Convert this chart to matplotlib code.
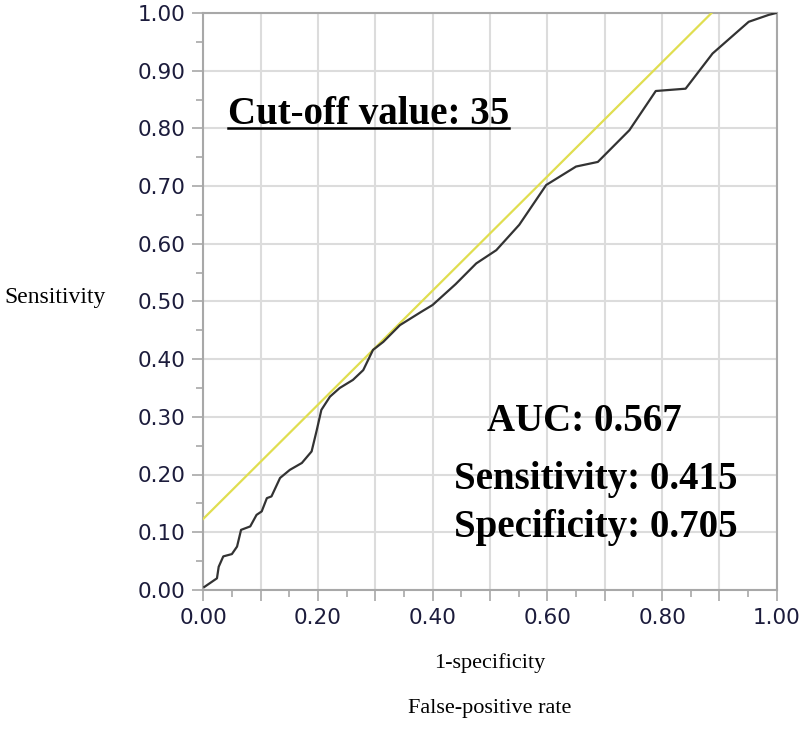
import matplotlib
matplotlib.use("Agg")
import matplotlib.pyplot as plt
from matplotlib.ticker import MultipleLocator, FuncFormatter
from matplotlib.lines import Line2D

# ROC curve
fpr = [0.002, 0.024, 0.027, 0.035, 0.050, 0.059, 0.066, 0.082, 0.093, 0.102,
       0.111, 0.119, 0.134, 0.151, 0.172, 0.189, 0.198, 0.206, 0.221, 0.238,
       0.261, 0.279, 0.296, 0.314, 0.343, 0.380, 0.400, 0.440, 0.476, 0.511,
       0.551, 0.598, 0.650, 0.688, 0.743, 0.789, 0.841, 0.888, 0.951, 0.986,
       0.998]
tpr = [0.005, 0.020, 0.040, 0.058, 0.062, 0.075, 0.104, 0.110, 0.130, 0.136,
       0.159, 0.162, 0.194, 0.208, 0.220, 0.240, 0.277, 0.312, 0.335, 0.350,
       0.364, 0.381, 0.416, 0.430, 0.459, 0.482, 0.494, 0.530, 0.566, 0.589,
       0.633, 0.702, 0.734, 0.742, 0.797, 0.865, 0.869, 0.930, 0.985, 0.997,
       1.000]

# tangent line at the cut-off
tan_x = [0.0, 0.886]
tan_y = [0.123, 1.0]

cutoff_text = "Cut-off value: 35"
stats = ["AUC: 0.567", "Sensitivity: 0.415", "Specificity: 0.705"]

fig = plt.figure(figsize=(8, 7.3), dpi=100)
ax = fig.add_axes([0.254, 0.192, 0.717, 0.79])

ax.plot(tan_x, tan_y, color="#e0de50", lw=1.6, zorder=3)
ax.plot(fpr, tpr, color="#333333", lw=1.6, zorder=4)

ax.set_xlim(0, 1)
ax.set_ylim(0, 1)
ax.xaxis.set_major_locator(MultipleLocator(0.1))
ax.xaxis.set_minor_locator(MultipleLocator(0.05))
ax.yaxis.set_major_locator(MultipleLocator(0.1))
ax.yaxis.set_minor_locator(MultipleLocator(0.05))
ax.xaxis.set_major_formatter(FuncFormatter(
    lambda v, p: "%.2f" % v if round(v * 10) % 2 == 0 else ""))
ax.yaxis.set_major_formatter(FuncFormatter(lambda v, p: "%.2f" % v))
ax.grid(True, which="major", color="#dcdcdc", lw=1.5)
ax.set_axisbelow(True)
for s in ax.spines.values():
    s.set_color("#a8a8a8")
    s.set_linewidth(1.5)
ax.tick_params(which="major", length=8, width=1.2, color="#a8a8a8",
               labelsize=15.5, labelcolor="#1c1c3c", pad=5)
ax.tick_params(which="minor", length=5, width=1.2, color="#a8a8a8")

ax.set_xlabel("1-specificity", family="Liberation Serif", fontsize=16,
              labelpad=18)
fig.text(0.6125, 0.016, "False-positive rate", family="Liberation Serif",
         fontsize=16, ha="center", va="bottom")
fig.text(0.006, 0.592, "Sensitivity", family="Liberation Serif",
         fontsize=17, ha="left", va="center")

t = ax.text(0.043, 0.808, cutoff_text, family="Liberation Serif",
            weight="bold", fontsize=28, ha="left", va="baseline")
ax.text(0.494, 0.276, stats[0], family="Liberation Serif", weight="bold",
        fontsize=28, ha="left", va="baseline")
ax.text(0.438, 0.175, stats[1], family="Liberation Serif", weight="bold",
        fontsize=28, ha="left", va="baseline")
ax.text(0.438, 0.092, stats[2], family="Liberation Serif", weight="bold",
        fontsize=28, ha="left", va="baseline")

# underline the cut-off label
fig.canvas.draw()
bb = t.get_window_extent().transformed(fig.transFigure.inverted())
uy = 1 - 128 / 730
fig.add_artist(Line2D([bb.x0, bb.x1], [uy, uy], color="black", lw=1.8))

fig.savefig("out.png", dpi=100)
